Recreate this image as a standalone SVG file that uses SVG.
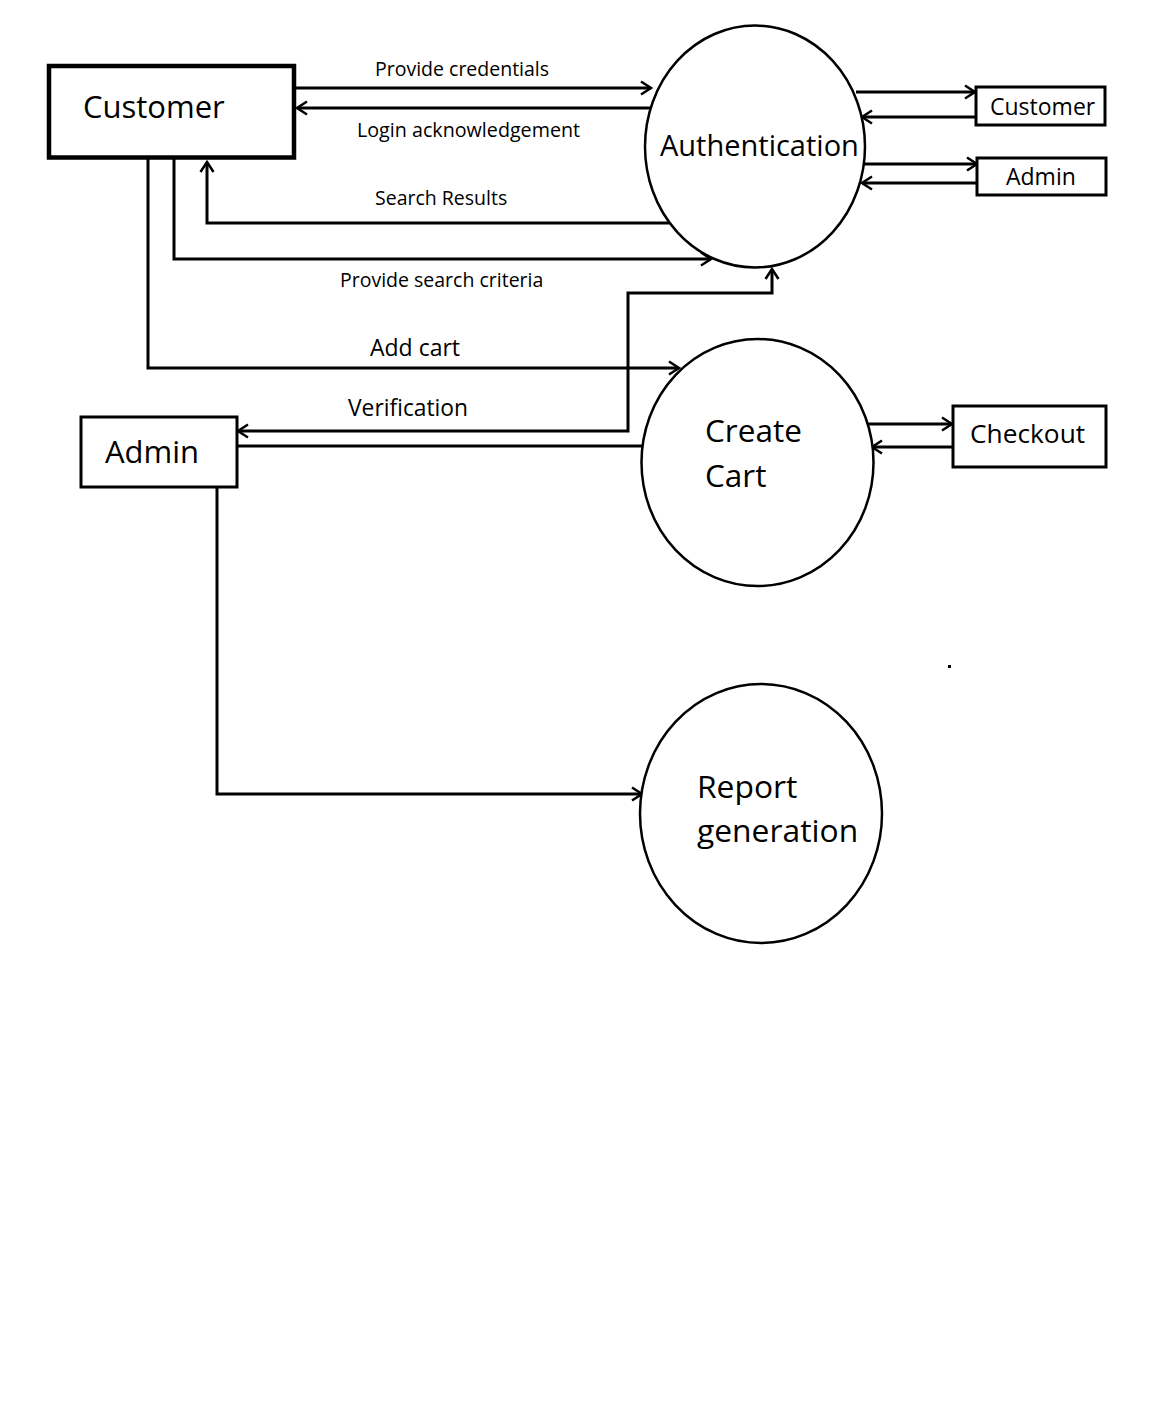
<svg xmlns="http://www.w3.org/2000/svg" width="1152" height="1412" viewBox="0 0 1152 1412">
  <style>
    .box { fill: #fff; stroke: #000; stroke-width: 3; }
    .main { stroke-width: 4.5; }
    .proc { fill: #fff; stroke: #000; stroke-width: 2.5; }
    .flow { fill: none; stroke: #000; stroke-width: 3; }
    .lbl { font-family: "Open Sans", "Liberation Sans", sans-serif; fill: #000; }
  </style>
  <defs>
    <marker id="arr" markerUnits="userSpaceOnUse" markerWidth="16" markerHeight="18" refX="13" refY="9" orient="auto-start-reverse">
      <path d="M3,2.5 L13,9 L3,15.5" fill="none" stroke="#000" stroke-width="2.5"/>
    </marker>
  </defs>
  <rect width="1152" height="1412" fill="#fff"/>

  <!-- data flows -->
  <g id="connectors">
    <path class="flow" d="M294,88 H651" marker-end="url(#arr)"/>
    <path class="flow" d="M651,108 H297" marker-end="url(#arr)"/>
    <path class="flow" d="M669,223 H207 V162" marker-end="url(#arr)"/>
    <path class="flow" d="M174,159 V259 H711" marker-end="url(#arr)"/>
    <path class="flow" d="M148,159 V368 H679" marker-end="url(#arr)"/>
    <path class="flow" d="M772,269 V293 H628 V431 H238" marker-start="url(#arr)" marker-end="url(#arr)"/>
    <path class="flow" d="M238,446 H642"/>
    <path class="flow" d="M217,488 V794 H642" marker-end="url(#arr)"/>
    <path class="flow" d="M856,92 H975" marker-end="url(#arr)"/>
    <path class="flow" d="M975,117 H862" marker-end="url(#arr)"/>
    <path class="flow" d="M864,164 H977" marker-end="url(#arr)"/>
    <path class="flow" d="M977,183 H862" marker-end="url(#arr)"/>
    <path class="flow" d="M867,424 H952" marker-end="url(#arr)"/>
    <path class="flow" d="M952,447 H872" marker-end="url(#arr)"/>
  </g>

  <!-- flow labels -->
  <g id="flow-labels" class="lbl">
    <text x="375" y="76" font-size="19.5">Provide credentials</text>
    <text x="357" y="137" font-size="19.7">Login acknowledgement</text>
    <text x="375" y="205" font-size="19.5">Search Results</text>
    <text x="340" y="287" font-size="19.5">Provide search criteria</text>
    <text x="370" y="356" font-size="23">Add cart</text>
    <text x="348" y="416" font-size="22.8">Verification</text>
  </g>

  <g id="customer">
    <rect class="box main" x="49" y="66" width="245" height="91.5"/>
    <text class="lbl" x="83" y="118" font-size="31">Customer</text>
  </g>

  <g id="admin">
    <rect class="box" x="81" y="417" width="156" height="70"/>
    <text class="lbl" x="105" y="463" font-size="31">Admin</text>
  </g>

  <g id="authentication">
    <ellipse class="proc" cx="755" cy="146.5" rx="110" ry="121"/>
    <text class="lbl" x="660" y="156" font-size="29">Authentication</text>
  </g>

  <g id="customer-store">
    <rect class="box" x="976" y="87" width="129" height="38"/>
    <text class="lbl" x="990" y="115" font-size="23">Customer</text>
  </g>

  <g id="admin-store">
    <rect class="box" x="977" y="158" width="129" height="37"/>
    <text class="lbl" x="1006" y="185" font-size="23">Admin</text>
  </g>

  <g id="create-cart">
    <ellipse class="proc" cx="757.5" cy="462.5" rx="116" ry="123.5"/>
    <text class="lbl" x="705" y="442" font-size="31.5">Create</text>
    <text class="lbl" x="705" y="487" font-size="31.5">Cart</text>
  </g>

  <g id="checkout">
    <rect class="box" x="953" y="406" width="153" height="61"/>
    <text class="lbl" x="970" y="443" font-size="26.3">Checkout</text>
  </g>

  <g id="report-generation">
    <ellipse class="proc" cx="761" cy="813.5" rx="121" ry="129.5"/>
    <text class="lbl" x="697" y="798" font-size="31.8">Report</text>
    <text class="lbl" x="697" y="842" font-size="31.8">generation</text>
  </g>

  <rect x="948" y="665" width="3" height="3" fill="#000"/>
</svg>
